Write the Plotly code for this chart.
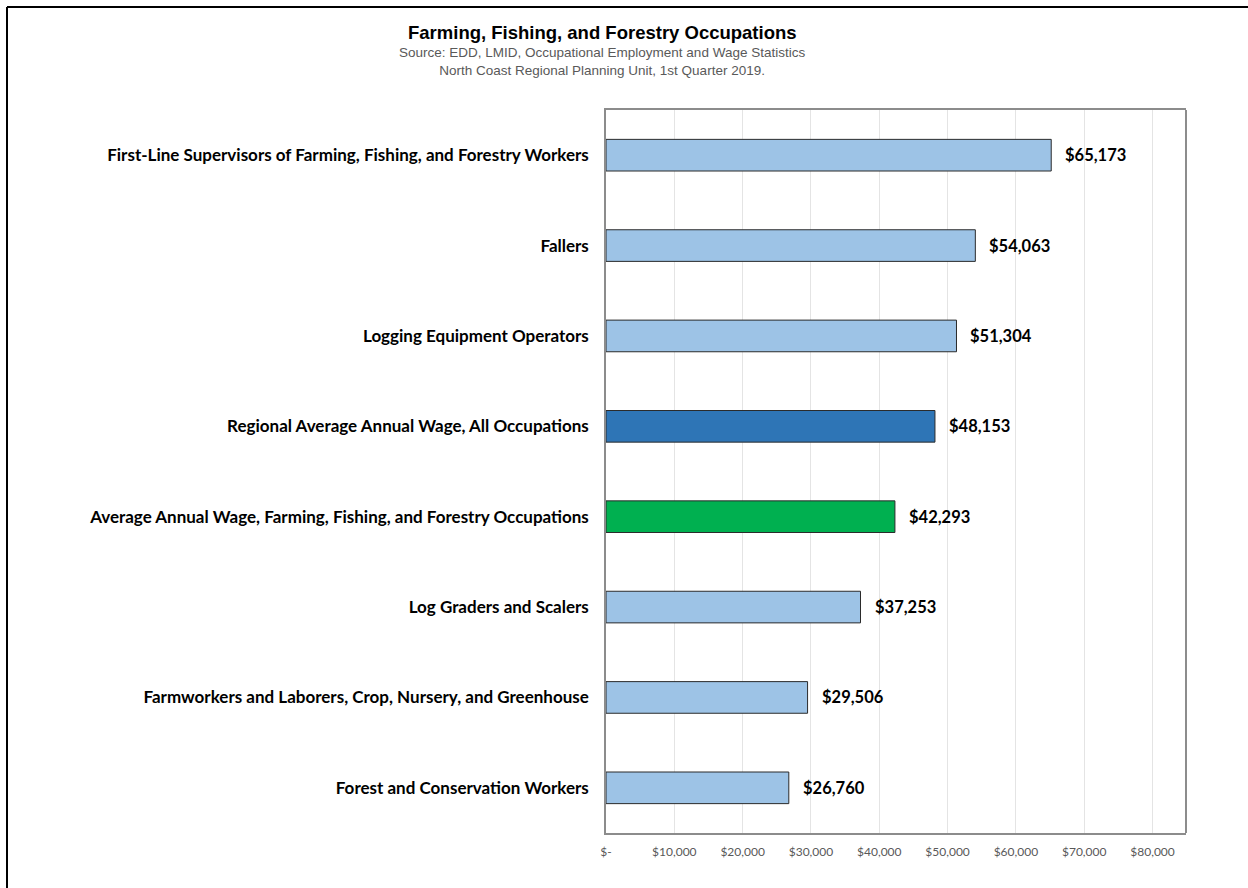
import plotly.graph_objects as go

categories = [
    "First-Line Supervisors of Farming, Fishing, and Forestry Workers",
    "Fallers",
    "Logging Equipment Operators",
    "Regional Average Annual Wage, All Occupations",
    "Average Annual Wage, Farming, Fishing, and Forestry Occupations",
    "Log Graders and Scalers",
    "Farmworkers and Laborers, Crop, Nursery, and Greenhouse",
    "Forest and Conservation Workers",
]
wages = [65173, 54063, 51304, 48153, 42293, 37253, 29506, 26760]
bar_colors = ["#9DC3E6", "#9DC3E6", "#9DC3E6", "#2E75B6", "#00B050",
              "#9DC3E6", "#9DC3E6", "#9DC3E6"]
tick_values = [0, 10000, 20000, 30000, 40000, 50000, 60000, 70000, 80000]
tick_labels = ["$-", "$10,000", "$20,000", "$30,000", "$40,000", "$50,000",
               "$60,000", "$70,000", "$80,000"]

W, H = 1248, 888
L, R, T, B = 606, 1186, 110, 833


def px_x(p):
    return (p - L) / (R - L)


def px_y(p):
    return (B - p) / (B - T)


fig = go.Figure()
fig.add_trace(go.Bar(
    x=wages, y=categories, orientation="h",
    marker=dict(color=bar_colors, line=dict(color="#2b2b2b", width=1)),
    hoverinfo="skip",
))

for c, v in zip(categories, wages):
    fig.add_annotation(
        x=v, y=c, xref="x", yref="y", text=f"${v:,}", showarrow=False,
        xanchor="left", yanchor="middle", xshift=12,
        font=dict(family="Lato", size=16.5, color="#000000", weight=700),
    )

fig.add_annotation(
    x=px_x(602), y=px_y(32.5), xref="paper", yref="paper",
    text="Farming, Fishing, and Forestry Occupations", showarrow=False,
    xanchor="center", yanchor="middle",
    font=dict(family="Liberation Sans", size=18.5, color="#000000", weight=700),
)
fig.add_annotation(
    x=px_x(602), y=px_y(61), xref="paper", yref="paper",
    text="Source: EDD, LMID, Occupational Employment and Wage Statistics<br>"
         "North Coast Regional Planning Unit, 1st Quarter 2019.",
    showarrow=False, xanchor="center", yanchor="middle",
    font=dict(family="Liberation Sans", size=13.5, color="#595959"),
)

# outer chart border (left and top edges visible)
fig.add_shape(type="line", xref="paper", yref="paper",
              x0=px_x(7), x1=px_x(7), y0=px_y(7), y1=px_y(900),
              line=dict(color="#000000", width=2))
fig.add_shape(type="line", xref="paper", yref="paper",
              x0=px_x(7), x1=px_x(1260), y0=px_y(7), y1=px_y(7),
              line=dict(color="#000000", width=2))
# right border of plot area (darker)
fig.add_shape(type="line", xref="paper", yref="paper",
              x0=1, x1=1, y0=0, y1=1,
              line=dict(color="#404040", width=1.2))

fig.update_layout(
    width=W, height=H,
    margin=dict(l=L, r=W - R, t=T, b=H - B, pad=0),
    paper_bgcolor="#ffffff", plot_bgcolor="#ffffff",
    showlegend=False, bargap=0.65,
    xaxis=dict(
        range=[0, 84900], tickvals=tick_values, ticktext=tick_labels,
        showgrid=True, gridcolor="#e4e4e4", gridwidth=1,
        showline=True, linecolor="#8c8c8c", linewidth=1.5, mirror=True,
        zeroline=False, ticks="", ticklabelstandoff=7,
        tickfont=dict(family="Lato", size=12, color="#595959"),
        fixedrange=True,
    ),
    yaxis=dict(
        autorange="reversed", showgrid=False,
        showline=True, linecolor="#8c8c8c", linewidth=1.5,
        ticks="", ticklabelstandoff=12,
        tickfont=dict(family="Lato", size=17, color="#000000", weight=700),
        fixedrange=True,
    ),
)

fig.write_html("out.html", config={"displayModeBar": False})
with open("out.html", "r", encoding="utf-8") as f:
    html = f.read()
html = html.replace("<head>", "<head><style>html,body{margin:0;padding:0;}</style>", 1)
with open("out.html", "w", encoding="utf-8") as f:
    f.write(html)
